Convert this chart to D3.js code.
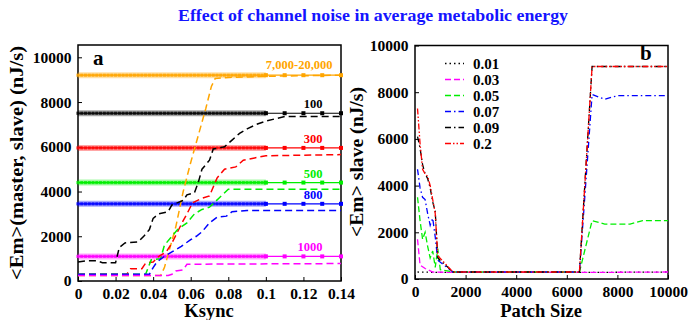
<!DOCTYPE html>
<html>
<head>
<meta charset="utf-8">
<script src="https://cdn.jsdelivr.net/npm/d3@7"></script>
<style>
  body { margin: 0; background: #fff; }
  svg text { font-family: "Liberation Serif", "Times New Roman", serif; font-weight: bold; }
</style>
</head>
<body>
<svg id="chart" width="689" height="320"></svg>
<script>
// ---- data ----
const ksyncTicks = [0, 0.02, 0.04, 0.06, 0.08, 0.1, 0.12, 0.14];
const energyTicks = [0, 2000, 4000, 6000, 8000, 10000];
const patchTicks = [0, 2000, 4000, 6000, 8000, 10000];

const noiseLabels = ['7,000-20,000', '100', '300', '500', '800', '1000'];
const noiseColors = ['#ffa500', '#000000', '#ff0000', '#00ee00', '#0000ff', '#ff00ff'];
const masterLevels = [9200, 7500, 5950, 4400, 3450, 1100];
const masterDenseK = d3.range(0, 0.1001, 0.002);
const masterSparseK = [0.1, 0.11, 0.12, 0.13, 0.14];

const slave7000 = [[0,250],[0.044,250],[0.046,600],[0.048,1200],[0.052,2400],[0.056,4000],[0.06,5300],[0.064,6500],[0.068,7700],[0.071,8700],[0.073,9050],[0.08,9100],[0.1,9150],[0.14,9200]];
const slave100 = [[0,850],[0.004,900],[0.01,900],[0.013,820],[0.02,820],[0.022,1500],[0.025,1700],[0.032,1750],[0.035,2000],[0.038,2300],[0.04,2800],[0.043,3000],[0.048,3100],[0.05,3400],[0.056,3600],[0.058,3850],[0.062,3950],[0.064,4400],[0.066,5000],[0.07,5400],[0.072,5900],[0.078,6000],[0.082,6300],[0.086,6600],[0.09,6800],[0.095,7000],[0.1,7150],[0.11,7350],[0.14,7350]];
const slave300 = [[0,300],[0.026,300],[0.028,550],[0.034,550],[0.036,800],[0.04,850],[0.043,1100],[0.047,1300],[0.05,1700],[0.053,2200],[0.056,2700],[0.058,3000],[0.061,3500],[0.066,3700],[0.07,3800],[0.074,4600],[0.078,5000],[0.084,5100],[0.088,5400],[0.094,5500],[0.1,5600],[0.14,5650]];
const slave500 = [[0,300],[0.036,300],[0.039,950],[0.044,1000],[0.046,1600],[0.05,2000],[0.053,2300],[0.058,2600],[0.062,3000],[0.066,3200],[0.07,3300],[0.075,3700],[0.08,4100],[0.14,4100]];
const slave800 = [[0,300],[0.038,300],[0.04,600],[0.042,850],[0.046,1100],[0.05,1300],[0.055,1550],[0.06,1850],[0.063,2000],[0.066,2200],[0.07,2600],[0.074,2850],[0.079,2900],[0.082,3100],[0.09,3150],[0.14,3150]];
const slave1000 = [[0,250],[0.048,250],[0.05,300],[0.052,450],[0.056,500],[0.058,750],[0.14,780]];
const slaveSeries = [slave7000, slave100, slave300, slave500, slave800, slave1000];

const ksyncLabels = ['0.01', '0.03', '0.05', '0.07', '0.09', '0.2'];
const ksyncColors = ['#000000', '#ff00ff', '#00ee00', '#0000ff', '#000000', '#ff0000'];
const ksyncDashes = ['1.5,3', '6,3', '6,3', '6,3,1.5,3', '6,3,1.5,3', '6,2,1.5,2,1.5,2'];
const patch001 = [[100,300],[1000,280],[6500,280],[10000,300]];
const patch003 = [[100,1700],[200,600],[400,450],[700,300],[1500,280],[6500,280],[10000,300]];
const patch005 = [[100,3500],[200,2500],[300,1700],[400,2000],[500,1400],[600,900],[700,1200],[800,500],[900,1300],[1000,400],[1500,300],[6500,300],[7000,2500],[7500,2350],[8000,2350],[8500,2350],[9000,2500],[10000,2500]];
const patch007 = [[100,4700],[200,3900],[300,3500],[400,3400],[500,2800],[600,2300],[700,2600],[800,1800],[900,800],[1500,300],[6500,300],[7000,7900],[7500,7700],[8000,7850],[9000,7850],[10000,7850]];
const patch009 = [[100,6100],[200,5600],[300,4900],[400,4500],[500,4300],[600,3900],[700,3300],[800,2900],[900,900],[1500,300],[6500,300],[7000,9100],[10000,9100]];
const patch02 = [[100,7300],[200,5800],[300,4700],[400,4500],[500,4400],[600,4000],[700,3400],[800,2800],[900,1000],[1500,300],[6500,300],[7000,9100],[10000,9100]];
const patchSeries = [patch001, patch003, patch005, patch007, patch009, patch02];

// ---- drawing ----
const svg = d3.select('#chart');

svg.append('text')
    .attr('x', 373).attr('y', 21)
    .attr('text-anchor', 'middle')
    .attr('fill', '#1414ff')
    .attr('textLength', 390).attr('lengthAdjust', 'spacingAndGlyphs')
    .style('font-size', '17px')
    .text('Effect of channel noise in average metabolic energy');

function drawAxes(g, x, y, xTicks, yTicks, xFmt) {
    const [x0, x1] = x.range();
    const [y0, y1] = y.range();
    g.append('g')
        .attr('transform', `translate(0,${y0})`)
        .call(d3.axisBottom(x).tickValues(xTicks).tickSize(-4).tickPadding(6.5).tickFormat(xFmt))
        .call(a => a.select('.domain').remove());
    g.append('g')
        .attr('transform', `translate(${x0},0)`)
        .call(d3.axisLeft(y).tickValues(yTicks).tickSize(-4).tickPadding(6.5).tickFormat(d3.format('d')))
        .call(a => a.select('.domain').remove());
    g.selectAll('.tick text').style('font-size', '15.5px').attr('fill', '#000');
    g.selectAll('.tick line').attr('stroke', '#000');
    g.append('rect')
        .attr('x', x0).attr('y', y1)
        .attr('width', x1 - x0).attr('height', y0 - y1)
        .attr('fill', 'none').attr('stroke', '#000').attr('stroke-width', 1.5);
}

// panel a
const xa = d3.scaleLinear().domain([0, 0.14]).range([78, 341]);
const ya = d3.scaleLinear().domain([0, 10550]).range([281, 45]);
const ga = svg.append('g');
drawAxes(ga, xa, ya, ksyncTicks, energyTicks, d => d === 0 ? '0' : d3.format('~g')(d));

const lineA = d3.line().x(d => xa(d[0])).y(d => ya(d[1]));

masterLevels.forEach((lvl, i) => {
    const c = noiseColors[i];
    const dense = masterDenseK.map(k => [k, lvl]);
    const sparse = masterSparseK.map(k => [k, lvl]);
    ga.append('path').attr('d', lineA(dense))
        .attr('fill', 'none').attr('stroke', c).attr('stroke-opacity', 0.35).attr('stroke-width', 6);
    ga.append('path').attr('d', lineA([dense[0], sparse[sparse.length - 1]]))
        .attr('fill', 'none').attr('stroke', c).attr('stroke-width', 1.2);
    ga.selectAll(null).data(dense).enter().append('rect')
        .attr('x', d => xa(d[0]) - 1.6).attr('y', d => ya(d[1]) - 1.6)
        .attr('width', 3.2).attr('height', 3.2)
        .attr('fill', c).attr('fill-opacity', 0.8);
    ga.selectAll(null).data(sparse).enter().append('rect')
        .attr('x', d => xa(d[0]) - 2).attr('y', d => ya(d[1]) - 2)
        .attr('width', 4).attr('height', 4)
        .attr('fill', c);
});

slaveSeries.forEach((s, i) => {
    ga.append('path').attr('d', lineA(s))
        .attr('fill', 'none').attr('stroke', noiseColors[i])
        .attr('stroke-width', 1.5).attr('stroke-dasharray', '7,4');
});

noiseLabels.forEach((lab, i) => {
    ga.append('text')
        .attr('x', xa(i === 0 ? 0.1355 : 0.1302))
        .attr('y', ya(masterLevels[i]) - (i === 0 ? 6.5 : 5))
        .attr('text-anchor', 'end')
        .attr('fill', noiseColors[i])
        .style('font-size', '12.5px')
        .text(lab);
});

ga.append('text').attr('x', 93).attr('y', 65).style('font-size', '21px').text('a');
ga.append('text').attr('x', 209).attr('y', 317).attr('text-anchor', 'middle')
    .style('font-size', '18.5px').text('Ksync');
ga.append('text')
    .attr('transform', 'translate(23,163) rotate(-90)')
    .attr('text-anchor', 'middle')
    .attr('textLength', 234).attr('lengthAdjust', 'spacingAndGlyphs')
    .style('font-size', '19.5px')
    .text('<Em>(master, slave) (nJ/s)');

// panel b
const xb = d3.scaleLinear().domain([0, 10000]).range([415, 668]);
const yb = d3.scaleLinear().domain([0, 10000]).range([279, 45.5]);
const gb = svg.append('g');
drawAxes(gb, xb, yb, patchTicks, energyTicks, d3.format('d'));

const lineB = d3.line().x(d => xb(d[0])).y(d => yb(d[1]));
patchSeries.forEach((s, i) => {
    gb.append('path').attr('d', lineB(s))
        .attr('fill', 'none').attr('stroke', ksyncColors[i])
        .attr('stroke-width', 1.3).attr('stroke-dasharray', ksyncDashes[i]);
});

const leg = gb.append('g');
ksyncLabels.forEach((lab, i) => {
    const yy = 63.5 + i * 16;
    leg.append('line')
        .attr('x1', 445).attr('x2', 464).attr('y1', yy).attr('y2', yy)
        .attr('stroke', ksyncColors[i]).attr('stroke-width', 1.3)
        .attr('stroke-dasharray', ksyncDashes[i]);
    leg.append('text')
        .attr('x', 473).attr('y', yy + 5)
        .style('font-size', '15px')
        .text(lab);
});

gb.append('text').attr('x', 640).attr('y', 60).style('font-size', '21px').text('b');
gb.append('text').attr('x', 541).attr('y', 317).attr('text-anchor', 'middle')
    .style('font-size', '18.5px').text('Patch Size');
gb.append('text')
    .attr('transform', 'translate(363,162) rotate(-90)')
    .attr('text-anchor', 'middle')
    .attr('textLength', 150).attr('lengthAdjust', 'spacingAndGlyphs')
    .style('font-size', '19px')
    .text('<Em> slave (nJ/s)');
</script>
</body>
</html>
